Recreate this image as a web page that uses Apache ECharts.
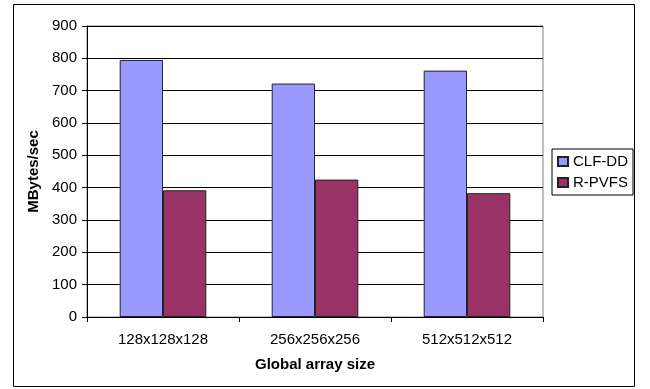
<!DOCTYPE html>
<html>
<head>
<meta charset="utf-8">
<script src="https://cdn.jsdelivr.net/npm/echarts@6/dist/echarts.min.js"></script>
<style>
  html, body { margin: 0; padding: 0; background: #fff; }
  #chart { width: 650px; height: 389px; }
</style>
</head>
<body>
<div id="chart"></div>
<script>
// Throughput per global array size
const categories = ['128x128x128', '256x256x256', '512x512x512'];
const clfDD = [795, 722, 762];
const rPVFS = [392, 425, 383];
const yTicks = { min: 0, max: 900, interval: 100 };

const FONT = '"Liberation Sans", Arial, sans-serif';

const chart = echarts.init(document.getElementById('chart'), null, { renderer: 'canvas' });

chart.setOption({
  animation: false,
  backgroundColor: '#ffffff',
  textStyle: { fontFamily: FONT },
  graphic: [{
    type: 'rect',
    shape: { x: 13.5, y: 4.5, width: 621, height: 382 },
    style: { fill: 'none', stroke: '#000', lineWidth: 1 },
    silent: true,
    z: -1
  }],
  grid: {
    left: 87, right: 107, top: 26, bottom: 72,
    show: true,
    backgroundColor: '#ffffff',
    borderColor: '#808080',
    borderWidth: 1
  },
  legend: {
    orient: 'vertical',
    left: 552, top: 149,
    padding: [5, 5, 5, 5],
    itemGap: 6,
    itemWidth: 10, itemHeight: 9,
    icon: 'rect',
    borderColor: '#000',
    borderWidth: 1,
    textStyle: { fontFamily: FONT, fontSize: 15, lineHeight: 15, color: '#000' },
    data: ['CLF-DD', 'R-PVFS']
  },
  xAxis: {
    type: 'category',
    data: categories,
    name: 'Global array size',
    nameLocation: 'middle',
    nameGap: 40,
    nameTextStyle: { fontFamily: FONT, fontSize: 15, fontWeight: 'bold', color: '#000' },
    axisLine: { lineStyle: { color: '#000', width: 1 } },
    axisTick: { show: true, length: 5, lineStyle: { color: '#000' } },
    axisLabel: { fontFamily: FONT, fontSize: 15, color: '#000', margin: 15 },
    splitLine: { show: false }
  },
  yAxis: {
    type: 'value',
    min: yTicks.min, max: yTicks.max, interval: yTicks.interval,
    name: 'MBytes/sec',
    nameLocation: 'middle',
    nameGap: 44,
    nameTextStyle: { fontFamily: FONT, fontSize: 15, fontWeight: 'bold', color: '#000' },
    axisLine: { show: true, lineStyle: { color: '#000', width: 1 } },
    axisTick: { show: true, length: 5, lineStyle: { color: '#000' } },
    axisLabel: { fontFamily: FONT, fontSize: 15, color: '#000', margin: 10 },
    splitLine: { show: true, lineStyle: { color: '#000', width: 1 } }
  },
  series: [
    {
      name: 'CLF-DD',
      type: 'bar',
      data: clfDD,
      barGap: '0%',
      barCategoryGap: '43%',
      itemStyle: { color: '#9999FF', borderColor: '#222', borderWidth: 1 }
    },
    {
      name: 'R-PVFS',
      type: 'bar',
      data: rPVFS,
      itemStyle: { color: '#993366', borderColor: '#222', borderWidth: 1 }
    }
  ]
});
</script>
</body>
</html>
